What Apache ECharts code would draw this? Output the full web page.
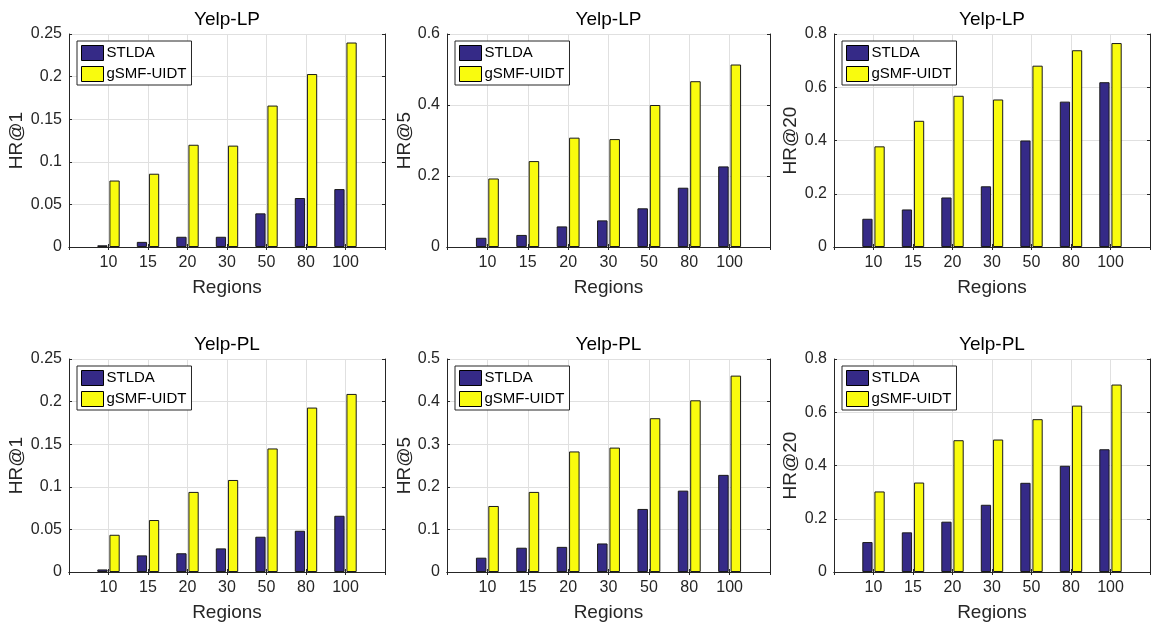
<!DOCTYPE html>
<html>
<head>
<meta charset="utf-8">
<script src="https://cdn.jsdelivr.net/npm/echarts@6/dist/echarts.min.js"></script>
<style>
html,body{margin:0;padding:0;background:#fff;}
#chart{width:1153px;height:626px;}
</style>
</head>
<body>
<div id="chart"></div>
<script>
// ---- data ----
const categories = ['10', '15', '20', '30', '50', '80', '100'];
const seriesNames = ['STLDA', 'gSMF-UIDT'];

const lpHR1_STLDA = [0.002, 0.006, 0.012, 0.012, 0.0395, 0.0575, 0.068];
const lpHR1_gSMF  = [0.078, 0.086, 0.120, 0.119, 0.166, 0.203, 0.240];
const lpHR5_STLDA = [0.026, 0.034, 0.058, 0.075, 0.109, 0.167, 0.227];
const lpHR5_gSMF  = [0.193, 0.242, 0.308, 0.304, 0.400, 0.467, 0.514];
const lpHR20_STLDA = [0.106, 0.141, 0.186, 0.228, 0.400, 0.546, 0.619];
const lpHR20_gSMF  = [0.378, 0.474, 0.568, 0.554, 0.681, 0.739, 0.766];

const plHR1_STLDA = [0.003, 0.0195, 0.022, 0.0277, 0.0414, 0.0484, 0.066];
const plHR1_gSMF  = [0.0437, 0.061, 0.094, 0.108, 0.145, 0.193, 0.209];
const plHR5_STLDA = [0.0336, 0.057, 0.059, 0.067, 0.148, 0.191, 0.228];
const plHR5_gSMF  = [0.155, 0.188, 0.283, 0.292, 0.361, 0.403, 0.461];
const plHR20_STLDA = [0.1125, 0.149, 0.189, 0.2525, 0.335, 0.399, 0.461];
const plHR20_gSMF  = [0.3025, 0.336, 0.495, 0.4975, 0.574, 0.625, 0.704];

const titles = ['Yelp-LP', 'Yelp-LP', 'Yelp-LP', 'Yelp-PL', 'Yelp-PL', 'Yelp-PL'];
const yNames = ['HR@1', 'HR@5', 'HR@20', 'HR@1', 'HR@5', 'HR@20'];
const yMax = [0.25, 0.6, 0.8, 0.25, 0.5, 0.8];
const yInterval = [0.05, 0.2, 0.2, 0.05, 0.1, 0.2];
const stldaData = [lpHR1_STLDA, lpHR5_STLDA, lpHR20_STLDA, plHR1_STLDA, plHR5_STLDA, plHR20_STLDA];
const gsmfData = [lpHR1_gSMF, lpHR5_gSMF, lpHR20_gSMF, plHR1_gSMF, plHR5_gSMF, plHR20_gSMF];

// ---- layout / style ----
const FONT = "'Liberation Sans', Arial, Helvetica, sans-serif";
const TXT = '#262626';
const GRIDC = '#e0e0e0';
const colLeft = [69, 447, 834];
const colWidth = [316, 323, 325];
const rowTop = [34, 359];
const rowHeight = 213;
const yNameGap = [43, 32, 34, 43, 32, 34];
const colors = ['#352A87', '#F9FB0E'];

const xCats = [''].concat(categories, ['']);
const pad = arr => [null].concat(arr, [null]);

const grid = [], xAxis = [], yAxis = [], series = [], legend = [];
for (let i = 0; i < 6; i++) {
  const r = Math.floor(i / 3), c = i % 3;
  grid.push({left: colLeft[c], top: rowTop[r], width: colWidth[c], height: rowHeight, containLabel: false});
  // bottom x axis
  xAxis.push({
    type: 'category', gridIndex: i, data: xCats, boundaryGap: false, position: 'bottom',
    axisLine: {show: true, lineStyle: {color: TXT, width: 1}},
    axisTick: {show: true, inside: true, length: 3, interval: 0, lineStyle: {color: TXT}},
    axisLabel: {interval: 0, color: TXT, fontFamily: FONT, fontSize: 16, margin: 8},
    splitLine: {show: true, interval: 0, lineStyle: {color: GRIDC, width: 1}},
    name: 'Regions', nameLocation: 'middle', nameGap: 31,
    nameTextStyle: {color: TXT, fontFamily: FONT, fontSize: 19}
  });
  // top x axis (box + title)
  xAxis.push({
    type: 'category', gridIndex: i, data: xCats, boundaryGap: false, position: 'top',
    axisLine: {show: true, lineStyle: {color: TXT, width: 1}},
    axisTick: {show: true, inside: true, length: 3, interval: 0, lineStyle: {color: TXT}},
    axisLabel: {show: false}, splitLine: {show: false},
    name: titles[i], nameLocation: 'middle', nameGap: 5,
    nameTextStyle: {color: '#000', fontFamily: FONT, fontSize: 19}
  });
  yAxis.push({
    type: 'value', gridIndex: i, min: 0, max: yMax[i], interval: yInterval[i], position: 'left',
    axisLine: {show: true, lineStyle: {color: TXT, width: 1}},
    axisTick: {show: true, inside: true, length: 3, lineStyle: {color: TXT}},
    axisLabel: {color: TXT, fontFamily: FONT, fontSize: 16, margin: 7,
      formatter: v => String(parseFloat(v.toFixed(4)))},
    splitLine: {show: true, lineStyle: {color: GRIDC, width: 1}},
    name: yNames[i], nameLocation: 'middle', nameGap: yNameGap[i],
    nameTextStyle: {color: TXT, fontFamily: FONT, fontSize: 19}
  });
  yAxis.push({
    type: 'value', gridIndex: i, min: 0, max: yMax[i], interval: yInterval[i], position: 'right',
    axisLine: {show: true, lineStyle: {color: TXT, width: 1}},
    axisTick: {show: true, inside: true, length: 3, lineStyle: {color: TXT}},
    axisLabel: {show: false}, splitLine: {show: false}
  });
  const data2 = [stldaData[i], gsmfData[i]];
  for (let s = 0; s < 2; s++) {
    series.push({
      type: 'bar', name: seriesNames[s], xAxisIndex: 2 * i, yAxisIndex: 2 * i,
      data: pad(data2[s]), barWidth: '26%', barGap: '18%',
      itemStyle: {color: colors[s], borderColor: '#1a1a1a', borderWidth: 1},
      emphasis: {disabled: true}, animation: false
    });
  }
  legend.push({
    data: seriesNames, orient: 'vertical', left: colLeft[c] + 8, top: rowTop[r] + 7,
    itemWidth: 22, itemHeight: 15, itemGap: 5, padding: [4, 5, 3, 4],
    borderColor: TXT, borderWidth: 1, backgroundColor: '#fff', borderRadius: 0,
    icon: 'rect', selectedMode: false,
    itemStyle: {borderColor: '#000', borderWidth: 1},
    textStyle: {color: '#000', fontFamily: FONT, fontSize: 15, padding: [0, 0, 0, -2]}
  });
}

const chart = echarts.init(document.getElementById('chart'), null, {renderer: 'canvas'});
chart.setOption({
  animation: false,
  backgroundColor: '#fff',
  grid, xAxis, yAxis, series, legend
});
</script>
</body>
</html>
